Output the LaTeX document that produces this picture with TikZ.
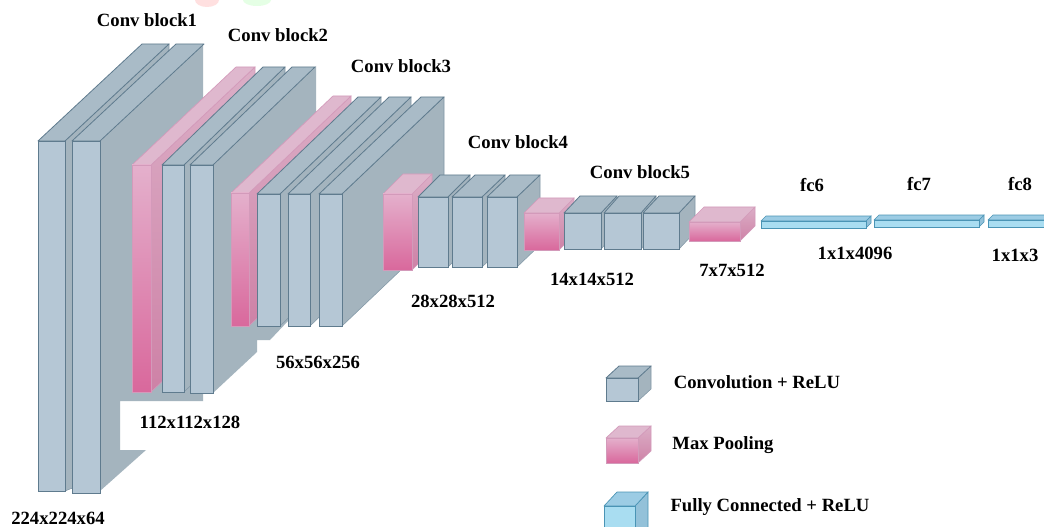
\documentclass[tikz,border=0pt]{standalone}
\usepackage{xcolor}
\usepackage{fontspec}
\setmainfont{Liberation Serif}
\definecolor{convfront}{HTML}{B5C7D5}
\definecolor{convside}{HTML}{A4B4BE}
\definecolor{convtop}{HTML}{A9BBC7}
\definecolor{convline}{HTML}{5F7B8E}
\definecolor{poolhigh}{HTML}{E4B0CC}
\definecolor{poollow}{HTML}{D9689C}
\definecolor{poolside}{HTML}{CC86A8}
\definecolor{pooltop}{HTML}{DFB8CE}
\definecolor{poolline}{HTML}{D39ABA}
\definecolor{fcfront}{HTML}{A9DDF1}
\definecolor{fcside}{HTML}{93C1D9}
\definecolor{fctop}{HTML}{9CCCE4}
\definecolor{fcline}{HTML}{4A94B5}
\tikzset{
  conv front/.style={fill=convfront, draw=convline, line width=0.7pt},
  conv top/.style={fill=convtop, draw=convline, line width=0.6pt, line join=round},
  conv side/.style={fill=convside, draw=convline!50!convside, line width=0.4pt},
  pool front/.style={top color=poolhigh, bottom color=poollow, draw=poolline, line width=0.5pt},
  pool top/.style={fill=pooltop, draw=poolline, line width=0.5pt, line join=round},
  pool side/.style={top color=pooltop!80!poolside, bottom color=poolside!85!poollow, draw=poolline, line width=0.4pt},
  fc front/.style={fill=fcfront, draw=fcline, line width=0.7pt},
  fc top/.style={fill=fctop, draw=fcline, line width=0.5pt, line join=round},
  fc side/.style={fill=fcside, draw=fcline, line width=0.5pt},
  cnn label/.style={font=\fontsize{14}{16}\selectfont\bfseries, inner sep=0pt},
}
% kind, left, right, top, bottom, depth x, depth y
\newcommand{\layerfaces}[7]{
  \path[#1 top] (#2,#4) -- ++(#6,-#7) -- ++(#3-#2,0) -- (#3,#4) -- cycle;
  \path[#1 front] (#2,#4) rectangle (#3,#5);
}
\newcommand{\layer}[7]{
  \path[#1 side] (#3,#4) -- ++(#6,-#7) -- ++(0,#5-#4) -- (#3,#5) -- cycle;
  \layerfaces{#1}{#2}{#3}{#4}{#5}{#6}{#7}
}
\begin{document}
\begin{tikzpicture}[x=0.75pt,y=-0.75pt]
  \useasboundingbox (0,0) rectangle (1044,527);
  \clip (0,0) rectangle (1044,527);
  \fill[white] (0,0) rectangle (1044,527);
  \fill[red!12] (207,0) ellipse (12 and 7);
  \fill[green!10] (257,0) ellipse (14 and 6);

  % block 1
  \path[conv side] (65,141) -- (169,44) -- (169,100) -- (80,485) -- (65,491) -- cycle;
  \layerfaces{conv}{38}{65}{141}{491}{104}{97}
  \fill[convside] (100,141) -- (203,44) -- (203,401) -- (120,401) -- (120,450) -- (146,450) -- (100,491) -- cycle;
  \layerfaces{conv}{72}{100}{141}{493}{104}{97}

  % block 2
  \layer{pool}{132}{151}{165}{392}{104}{98}
  \layer{conv}{162}{184}{165}{392}{101}{98}
  \fill[convside] (213,165) -- (316,66) -- (316,295) -- (288,321) -- (270,340) -- (257,340) -- (257,352) -- (213,393) -- cycle;
  \layerfaces{conv}{190}{213}{165}{393}{102}{98}

  % block 3
  \layer{pool}{231}{249}{193}{326}{102}{97}
  \layer{conv}{257}{280}{194}{326}{101}{97}
  \layer{conv}{288}{310}{194}{326}{101}{97}
  \layer{conv}{319}{342}{194}{326}{102}{97}

  % block 4
  \layer{pool}{383}{412}{194}{270}{20}{20}
  \layer{conv}{418}{448}{197}{267}{22}{22}
  \layer{conv}{452}{482}{197}{267}{23}{22}
  \layer{conv}{487}{517}{197}{267}{23}{22}

  % block 5
  \layer{pool}{524}{559}{213}{250}{15}{15}
  \layer{conv}{564}{601}{213}{249}{16}{17}
  \layer{conv}{604}{641}{213}{249}{15}{17}
  \layer{conv}{643}{679}{213}{249}{16}{17}
  \layer{pool}{689}{740}{222}{241}{15}{15}

  % fully connected
  \layer{fc}{761}{866}{221}{228}{5}{5}
  \layer{fc}{874}{979}{220}{227}{5}{5}
  \layer{fc}{988}{1060}{220}{227}{5}{5}

  % legend
  \layer{conv}{606}{638}{378}{401}{13}{12}
  \layer{pool}{606}{638}{438}{463}{13}{12}
  \layer{fc}{604}{635}{506}{545}{13}{14}

  \node[cnn label] (block1) at (147,20) {Conv block1};
  \node[cnn label] (block2) at (278,35) {Conv block2};
  \node[cnn label] (block3) at (401,66) {Conv block3};
  \node[cnn label] (block4) at (518,142) {Conv block4};
  \node[cnn label] (block5) at (640,172) {Conv block5};
  \node[cnn label] (fc6) at (812,185) {fc6};
  \node[cnn label] (fc7) at (919,184) {fc7};
  \node[cnn label] (fc8) at (1020,184) {fc8};

  \node[cnn label] (size1) at (58,518) {224x224x64};
  \node[cnn label] (size2) at (190,422) {112x112x128};
  \node[cnn label] (size3) at (318,362) {56x56x256};
  \node[cnn label] (size4) at (453,301) {28x28x512};
  \node[cnn label] (size5) at (592,279) {14x14x512};
  \node[cnn label] (size6) at (732,270) {7x7x512};
  \node[cnn label] (size7) at (855,253) {1x1x4096};
  \node[cnn label] (size8) at (1015,255) {1x1x3};

  \node[cnn label] (key conv) at (757,382) {Convolution + ReLU};
  \node[cnn label] (key pool) at (723,445) {Max Pooling};
  \node[cnn label] (key fc) at (770,507) {Fully Connected + ReLU};
\end{tikzpicture}
\end{document}
